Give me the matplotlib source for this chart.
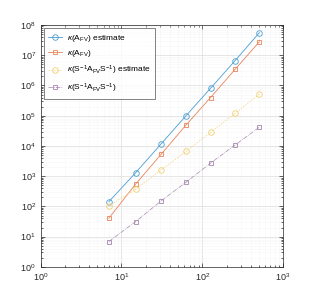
import numpy as np
import matplotlib
matplotlib.use("Agg")
import matplotlib.pyplot as plt
from matplotlib.ticker import LogLocator, NullFormatter

plt.rcParams['font.family'] = ['Liberation Sans', 'DejaVu Sans']
plt.rcParams['mathtext.fontset'] = 'custom'
plt.rcParams['mathtext.rm'] = 'Liberation Sans'
plt.rcParams['mathtext.it'] = 'Liberation Sans:italic'

# problem sizes
n = [7, 15, 31, 63, 127, 255, 511]

# condition numbers
kappa_fv_est = [144, 1.3e3, 1.17e4, 1.0e5, 8.1e5, 6.6e6, 5.6e7]
kappa_fv = [41, 550, 5.3e3, 4.9e4, 4.0e5, 3.4e6, 2.8e7]
kappa_prec_est = [104, 370, 1.6e3, 6.6e3, 2.8e4, 1.2e5, 5.2e5]
kappa_prec = [6.9, 31.5, 152, 630, 2.7e3, 1.07e4, 4.2e4]

labels = [r'$\kappa(\mathrm{A_{FV}})$ estimate',
          r'$\kappa(\mathrm{A_{FV}})$',
          r'$\kappa(\mathrm{S^{-1}A_{FV}S^{-1}})$ estimate',
          r'$\kappa(\mathrm{S^{-1}A_{FV}S^{-1}})$']

blue = '#4a9dd2'
orange = '#e8845a'
yellow = '#f2cf6e'
purple = '#a486ae'

fig = plt.figure(figsize=(3.13, 3.05), dpi=100)
ax = fig.add_axes([0.130, 0.125, 0.774, 0.793])

ax.loglog(n, kappa_fv_est, '-o', color=blue, lw=0.6, ms=4, mew=0.6,
          mfc='none', label=labels[0])
ax.loglog(n, kappa_fv, '-s', color=orange, lw=0.6, ms=3.5, mew=0.6,
          mfc='none', label=labels[1])
ax.loglog(n, kappa_prec_est, '--o', color=yellow, lw=0.5, ms=4, mew=0.6,
          mfc='none', label=labels[2], dashes=(2, 2))
ax.loglog(n, kappa_prec, '-.s', color=purple, lw=0.5, ms=3.5, mew=0.6,
          mfc='none', label=labels[3])

ax.set_xlim(1, 1e3)
ax.set_ylim(1, 1e8)
ax.xaxis.set_major_locator(LogLocator(base=10, numticks=10))
ax.yaxis.set_major_locator(LogLocator(base=10, numticks=12))
ax.xaxis.set_minor_locator(LogLocator(base=10, subs=np.arange(2, 10), numticks=20))
ax.yaxis.set_minor_locator(LogLocator(base=10, subs=np.arange(2, 10), numticks=20))
ax.xaxis.set_minor_formatter(NullFormatter())
ax.yaxis.set_minor_formatter(NullFormatter())

ax.grid(True, which='major', color='#dcdcdc', lw=0.5)
ax.grid(True, which='minor', color='#efefef', lw=0.4, linestyle=(0, (1, 1)))
ax.set_axisbelow(True)

ax.tick_params(which='both', direction='in', top=True, right=True,
               colors='#262626', labelsize=6.5, width=0.5)
ax.tick_params(which='major', length=3)
ax.tick_params(which='minor', length=1.5)
for s in ax.spines.values():
    s.set_color('#262626')
    s.set_linewidth(0.5)

leg = ax.legend(loc='upper left', fontsize=6, frameon=True, fancybox=False,
                edgecolor='#262626', handlelength=1.7, handletextpad=0.5,
                borderpad=0.5, labelspacing=0.55, borderaxespad=0.4)
leg.get_frame().set_linewidth(0.5)

fig.savefig('out.png', dpi=100)
